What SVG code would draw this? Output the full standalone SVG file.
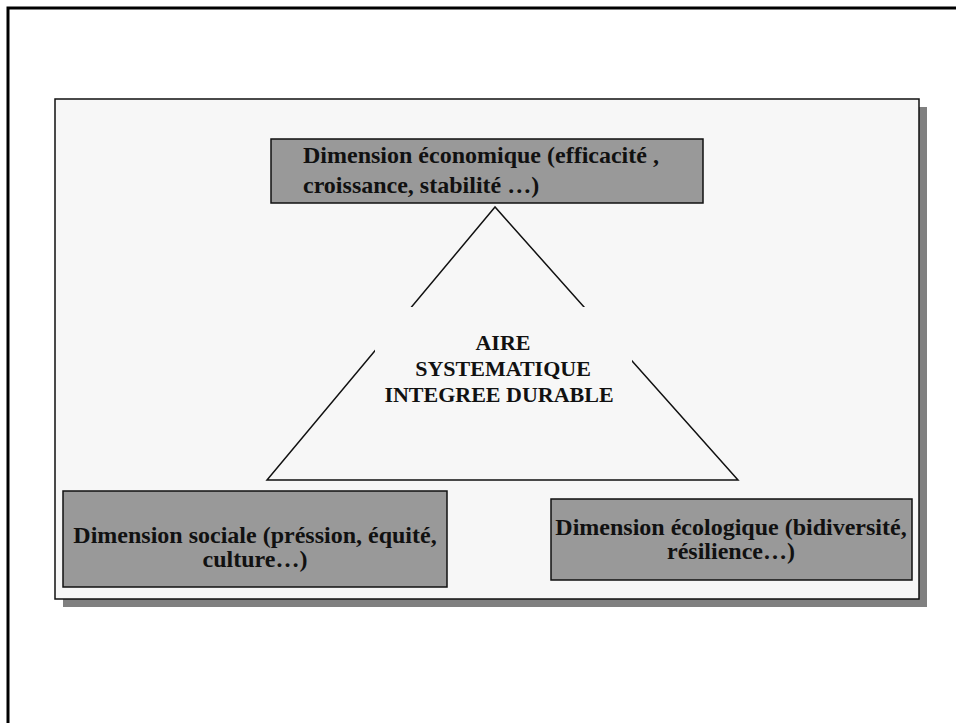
<svg xmlns="http://www.w3.org/2000/svg" width="956" height="723" viewBox="0 0 956 723">
<style>
.t{font-family:"Liberation Serif","Times New Roman",serif;font-weight:bold;font-size:24px;fill:#111}
.m{font-size:22px}
.c{text-anchor:middle}
.box{fill:#999999;stroke:#111;stroke-width:1.5}
.ln{stroke:#111;stroke-width:1.5;fill:none}
</style>
<rect width="956" height="723" fill="#ffffff"/>
<path d="M8 723 V8 H956" fill="none" stroke="#000" stroke-width="3"/>
<g id="panel">
<rect x="63" y="107" width="864" height="500" fill="#808080"/>
<rect x="55" y="99" width="864" height="500" fill="#f7f7f7" stroke="#111" stroke-width="1.5"/>
</g>
<g id="connectors">
<path class="ln" d="M495 207 L267 480 H738 Z"/>
</g>
<g id="center">
<rect x="375" y="307" width="257" height="110" fill="#f7f7f7"/>
<text class="t c m" x="503" y="350">AIRE</text>
<text class="t c m" x="503" y="376">SYSTEMATIQUE</text>
<text class="t c m" x="499" y="402">INTEGREE DURABLE</text>
</g>
<g id="eco">
<rect class="box" x="271" y="139" width="432" height="64"/>
<text class="t" x="303" y="163">Dimension économique (efficacité ,</text>
<text class="t" x="303" y="193">croissance, stabilité …)</text>
</g>
<g id="social">
<rect class="box" x="63" y="491" width="384" height="96"/>
<text class="t c" x="255" y="543">Dimension sociale (préssion, équité,</text>
<text class="t c" x="255" y="567">culture…)</text>
</g>
<g id="ecologique">
<rect class="box" x="551" y="499" width="361" height="81"/>
<text class="t c" x="731" y="535">Dimension écologique (bidiversité,</text>
<text class="t c" x="731" y="559">résilience…)</text>
</g>
</svg>
